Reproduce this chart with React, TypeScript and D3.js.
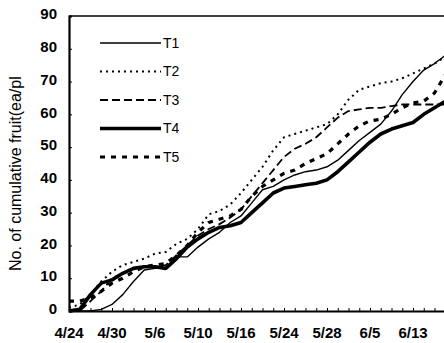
import { useEffect, useRef } from "react";
import * as d3 from "d3";

// observation points (category axis, evenly spaced), labels every 4th point
const tickLabels = ["4/24", "4/30", "5/6", "5/10", "5/16", "5/24", "5/28", "6/5", "6/13"];
const yTicks = [0, 10, 20, 30, 40, 50, 60, 70, 80, 90];

const t1 = [0, 0, 0, 0.5, 2, 5, 9, 12.5, 13, 13, 16.5, 16.5, 19.5, 22, 24, 27, 29, 33, 37, 38, 40, 41.5, 42.5, 43, 44, 46, 49, 52, 54.5, 57, 61, 66, 70, 73.5, 75.5, 78];
const t2 = [1, 2, 5, 9, 12, 14, 15, 16, 17.5, 18, 20.5, 22, 25, 29.5, 30.5, 32.5, 36, 40, 44, 49, 53, 54, 55, 56, 57, 60, 64.5, 67.5, 68.5, 69.5, 70, 71, 72.5, 74, 75.5, 77.5];
const t3 = [0, 0, 3, 6, 10, 11.5, 13, 13.5, 13.5, 14, 17, 20, 23, 25, 26.5, 28.5, 31, 35, 39, 43, 47, 49.5, 51, 53, 56, 59, 61, 61.5, 62, 62, 62.5, 63, 63, 63, 63, 63];
const t4 = [0, 0.5, 5, 8.5, 9.5, 11.5, 13, 13.5, 13.5, 13, 16, 19.5, 22, 24, 25.5, 26, 27, 30, 33, 36, 37.5, 38, 38.5, 39, 40, 42.5, 45.5, 48.5, 51.5, 54, 55.5, 56.5, 57.5, 60, 62, 64];
const t5 = [3, 3, 4, 6, 8.5, 10, 12, 13.5, 14, 14.5, 17, 20, 24, 27, 28, 29, 31, 35, 38, 40, 42, 43, 45, 46.5, 48, 51, 54, 56.5, 58, 58.5, 60, 62, 63.5, 64, 66.5, 72];

const seriesNames = ["T1", "T2", "T3", "T4", "T5"];
const seriesValues = [t1, t2, t3, t4, t5];

const styles = [
  { width: 1.4, dash: "" },
  { width: 2, dash: "2,4" },
  { width: 1.8, dash: "8,4" },
  { width: 3.6, dash: "" },
  { width: 3.2, dash: "5,6" },
];

const App = () => {
  const svgRef = useRef<SVGSVGElement>(null);

  useEffect(() => {
    document.body.style.margin = "0";
    const W = 444;
    const H = 343;
    const svg = d3.select(svgRef.current).attr("width", W).attr("height", H);
    svg.selectAll("*").remove();

    const left = 69;
    const step = 10.75;
    const n = t1.length;
    const x = d3.scaleLinear().domain([0, n - 1]).range([left, left + step * (n - 1)]);
    const y = d3.scaleLinear().domain([0, 90]).range([311, 16]);

    const g = svg.append("g");
    const font = "'Liberation Sans', Arial, sans-serif";

    // frame
    g.append("line").attr("x1", left).attr("x2", W).attr("y1", y(90)).attr("y2", y(90))
      .attr("stroke", "#000").attr("stroke-width", 1.5);

    // lines
    const line = d3.line<number>().x((_, i) => x(i)).y(d => y(d));
    seriesValues.forEach((vals, k) => {
      g.append("path")
        .datum(vals)
        .attr("d", line)
        .attr("fill", "none")
        .attr("stroke", "#000")
        .attr("stroke-width", styles[k].width)
        .attr("stroke-dasharray", styles[k].dash)
        .attr("stroke-linejoin", "round");
    });

    // y axis
    const yAxis = g.append("g")
      .attr("transform", `translate(${left},0)`)
      .call(d3.axisRight(y).tickValues(yTicks).tickSize(3).tickFormat(() => ""));
    yAxis.select(".domain").attr("stroke-width", 2.2);
    g.selectAll(".ylab").data(yTicks).enter().append("text")
      .attr("x", 57).attr("y", d => y(d) - 2).attr("dy", "0.35em")
      .attr("text-anchor", "end").attr("font-family", font).attr("font-size", 15).attr("font-weight", "bold")
      .text(d => d);

    // x axis with minor ticks at every point
    const xAxis = g.append("g")
      .attr("transform", `translate(0,${y(0)})`)
      .call(d3.axisTop(x).tickValues(d3.range(n)).tickSize(3).tickSizeOuter(0).tickFormat(() => ""));
    xAxis.select(".domain").attr("stroke-width", 1.8);
    g.selectAll(".xlab").data(tickLabels).enter().append("text")
      .attr("x", (_, i) => x(i * 4)).attr("y", 338)
      .attr("text-anchor", "middle").attr("font-family", font).attr("font-size", 15).attr("font-weight", "bold")
      .text(d => d);

    // y title
    g.append("text")
      .attr("transform", `translate(21,${271}) rotate(-90)`)
      .attr("font-family", font).attr("font-size", 16)
      .text("No. of cumulative fruit(ea/pl");

    // legend
    seriesNames.forEach((name, k) => {
      const ly = 43 + k * 28.5;
      g.append("line").attr("x1", 100).attr("x2", 161).attr("y1", ly).attr("y2", ly)
        .attr("stroke", "#000").attr("stroke-width", styles[k].width)
        .attr("stroke-dasharray", styles[k].dash);
      g.append("text").attr("x", 163).attr("y", ly).attr("dy", "0.35em")
        .attr("font-family", font).attr("font-size", 14).text(name);
    });
  }, []);

  return <svg ref={svgRef}></svg>;
};

export default App;
